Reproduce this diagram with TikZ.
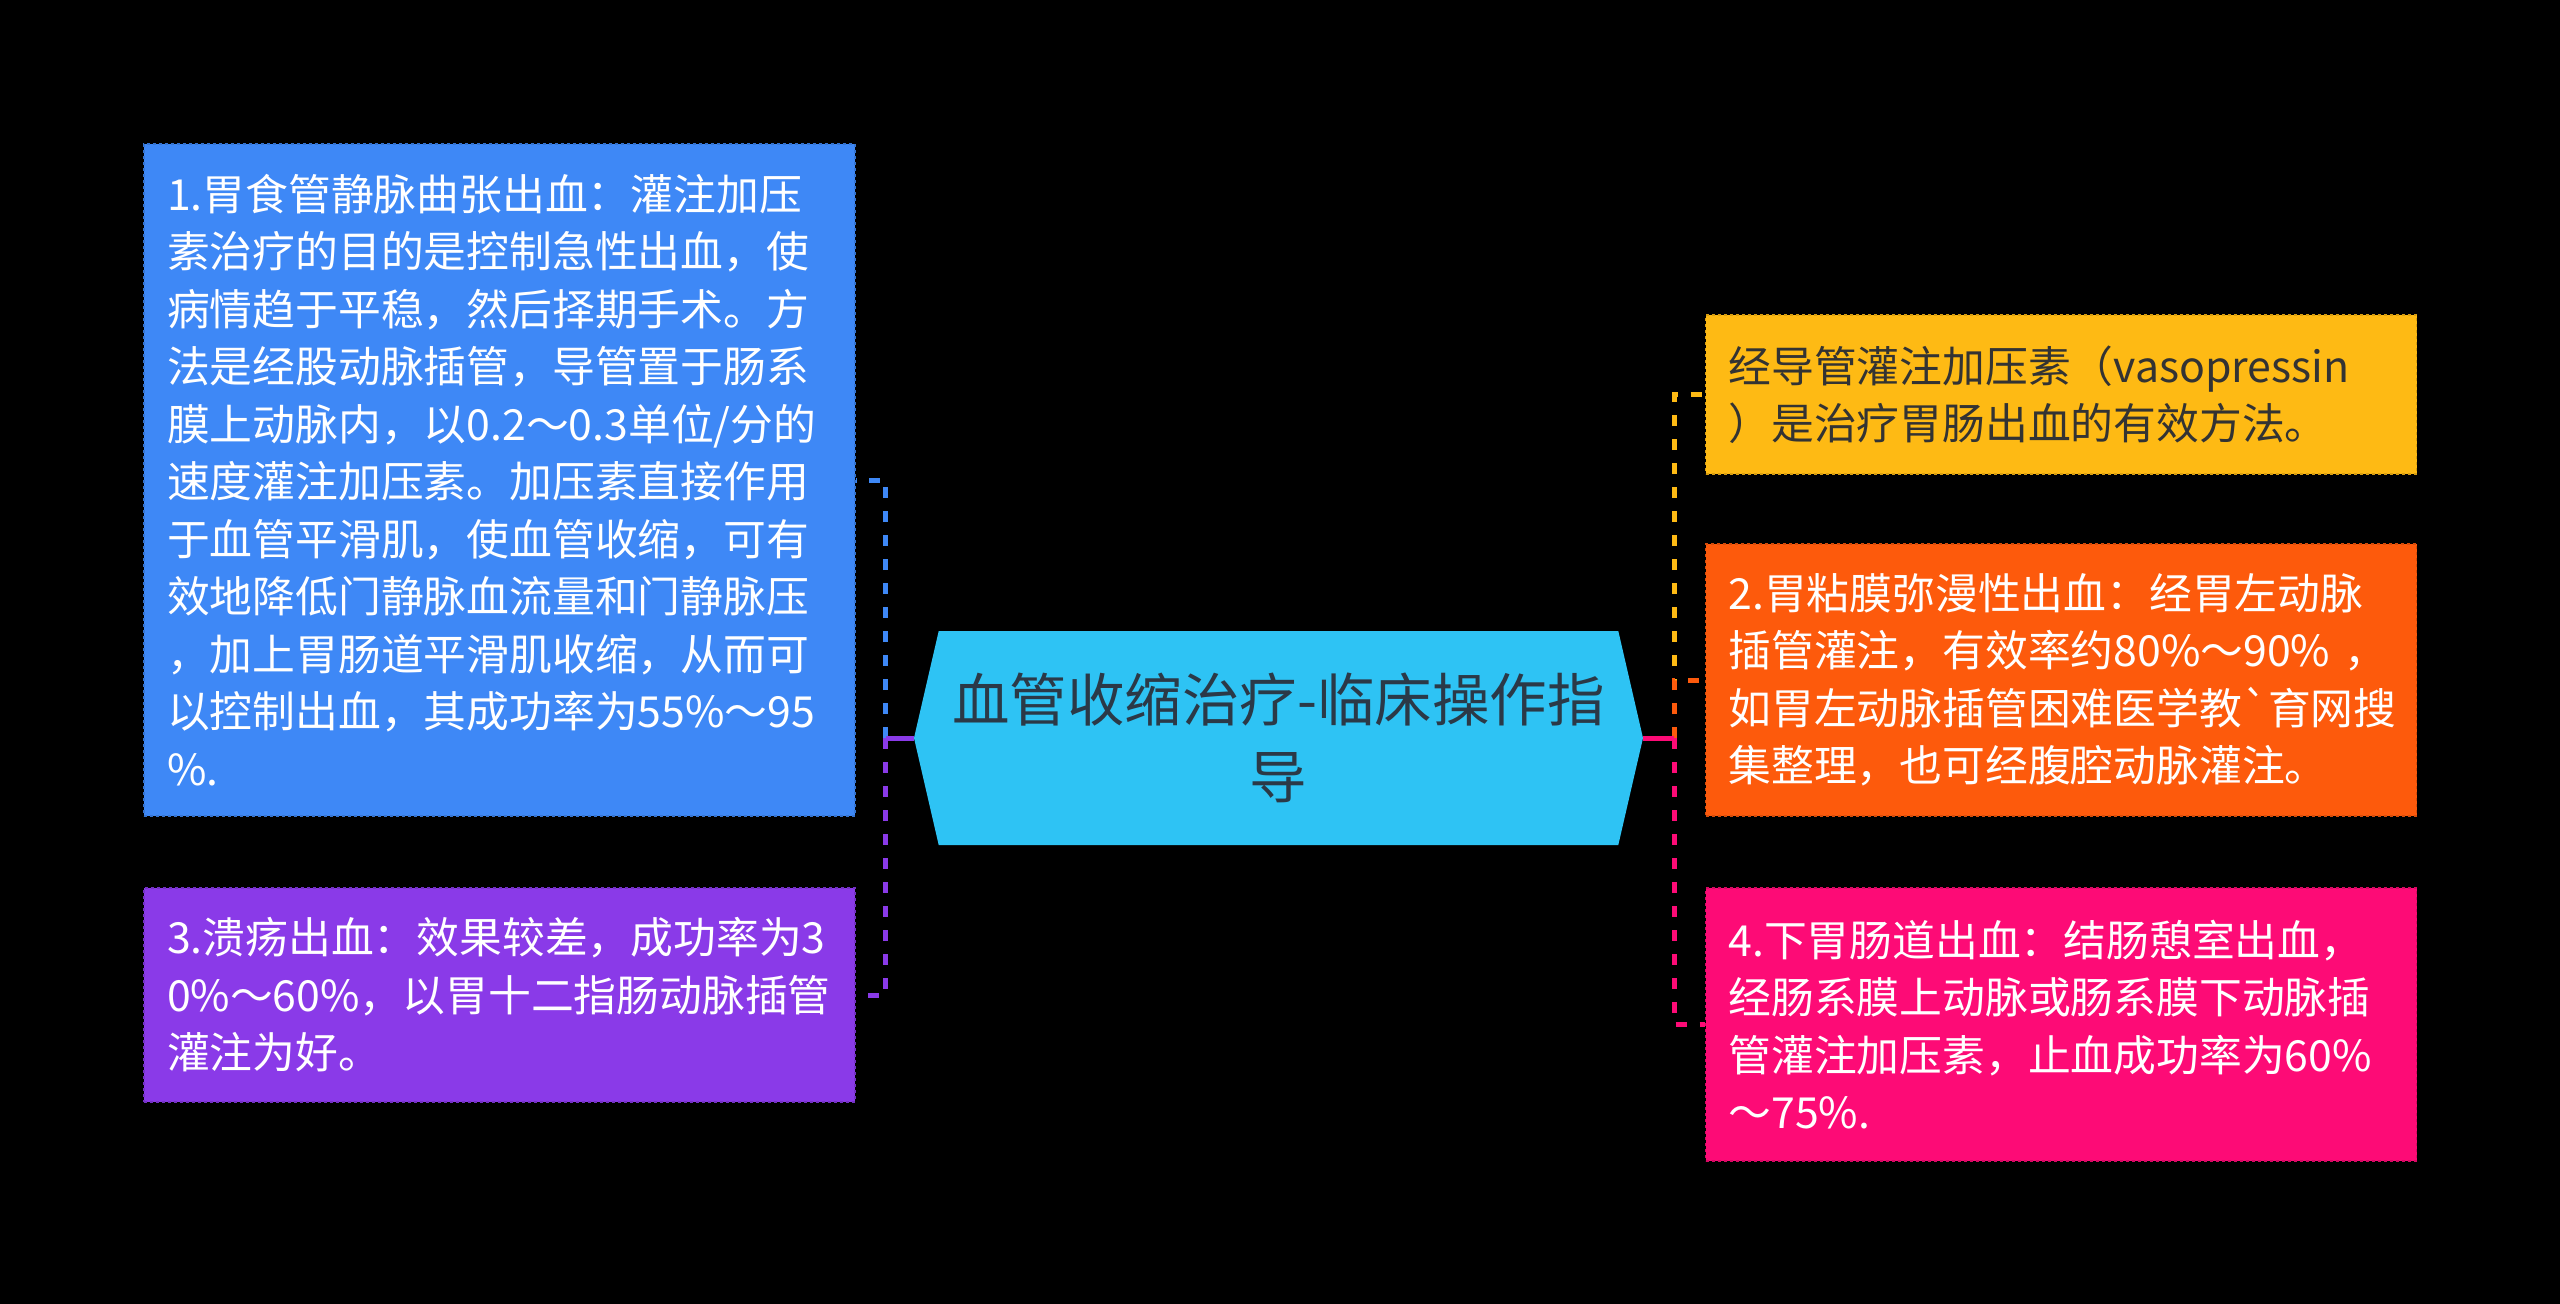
\documentclass[tikz,border=0pt]{standalone}
\usepackage{fontspec}
\setmainfont{Noto Sans CJK SC}
\usepackage{tikz}
\usetikzlibrary{shapes.symbols,positioning}

\definecolor{coreblue}{HTML}{2EC3F4}
\definecolor{coretext}{HTML}{2B3947}
\definecolor{itemblue}{HTML}{3E88F6}
\definecolor{itempurple}{HTML}{8A3AE8}
\definecolor{itemyellow}{HTML}{FEBA14}
\definecolor{itemorange}{HTML}{FD5A0C}
\definecolor{itempink}{HTML}{FD0B76}
\definecolor{itemtext}{HTML}{333333}

\begin{document}
\begin{tikzpicture}[x=1pt,y=-1pt,
  core/.style={signal, signal to=west and east, signal pointer angle=154, fill=coreblue, text=coretext,
    minimum width=729pt, minimum height=214pt, inner sep=0pt, align=center, font=\fontsize{57.5}{77}\selectfont},
  item/.style={draw=#1!85!black, dashed, line width=1.5pt, fill=#1, text=white, text width=665pt,
    inner xsep=23pt, inner ysep=0pt, align=left, font=\fontsize{42.8}{57.5}\selectfont},
  link/.style={draw=#1, line width=5pt, dash pattern=on 11pt off 13pt},
  stub/.style={draw=#1, line width=5pt}]
  \fill[black] (0,0) rectangle (2560,1304);
  \useasboundingbox (0,0) rectangle (2560,1304);

  \node[core] (core) at (1278.5,738) {血管收缩治疗-临床操作指\\导};

  \node[item=itemblue, minimum height=672pt] (pt1) at (499.5,480) {1.胃食管静脉曲张出血：灌注加压\\素治疗的目的是控制急性出血，使\\病情趋于平稳，然后择期手术。方\\法是经股动脉插管，导管置于肠系\\膜上动脉内，以0.2～0.3单位/分的\\速度灌注加压素。加压素直接作用\\于血管平滑肌，使血管收缩，可有\\效地降低门静脉血流量和门静脉压\\，加上胃肠道平滑肌收缩，从而可\\以控制出血，其成功率为55\%～95\\\%.};
  \node[item=itempurple, minimum height=214pt] (pt3) at (499.5,995) {3.溃疡出血：效果较差，成功率为3\\0\%～60\%，以胃十二指肠动脉插管\\灌注为好。};

  \node[item=itemyellow, text=itemtext, minimum height=159pt] (intro) at (2061,394.5) {经导管灌注加压素（vasopressin\\）是治疗胃肠出血的有效方法。};
  \node[item=itemorange, minimum height=272pt] (pt2) at (2061,680) {2.胃粘膜弥漫性出血：经胃左动脉\\插管灌注，有效率约80\%～90\%~，\\如胃左动脉插管困难医学教\textasciigrave 育网搜\\集整理，也可经腹腔动脉灌注。};
  \node[item=itempink, minimum height=273pt] (pt4) at (2061,1024.5) {4.下胃肠道出血：结肠憩室出血，\\经肠系膜上动脉或肠系膜下动脉插\\管灌注加压素，止血成功率为60\%\\～75\%.};

  \coordinate (jl) at ([xshift=-28pt]core.west);
  \coordinate (jr) at ([xshift=31pt]core.east);
  \draw[link=itemblue] (jl) |- (pt1.east);
  \draw[link=itempurple] (jl) |- (pt3.east);
  \draw[stub=itempurple] (core.west) -- (jl);
  \draw[link=itemyellow] (jr) |- (intro.west);
  \draw[link=itemorange] (jr) |- (pt2.west);
  \draw[link=itempink] (jr) |- (pt4.west);
  \draw[stub=itempink] (core.east) -- (jr);
\end{tikzpicture}
\end{document}
